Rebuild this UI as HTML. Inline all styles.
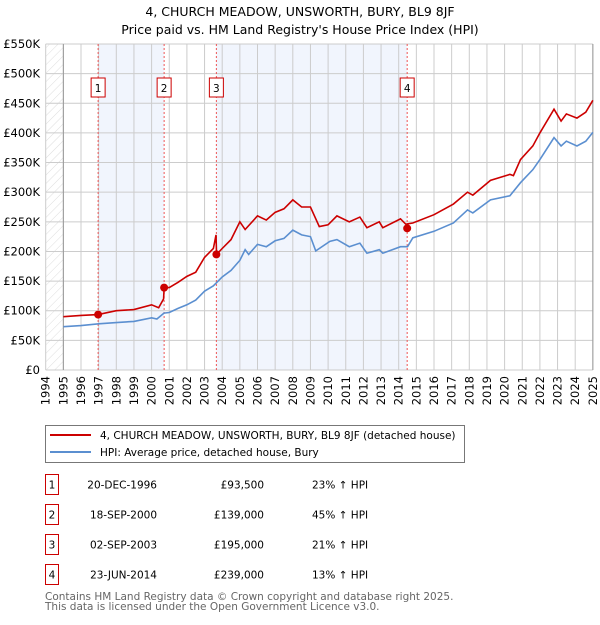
<!DOCTYPE html>
<html><head><meta charset="utf-8"><style>
body{margin:0;background:#fff;font-family:"Liberation Sans","DejaVu Sans",sans-serif;}
svg text{font-family:"DejaVu Sans","Liberation Sans",sans-serif;}
</style></head><body>
<svg id="c" width="600" height="620" xmlns="http://www.w3.org/2000/svg">
<defs><pattern id="h" width="6" height="6" patternUnits="userSpaceOnUse" patternTransform="rotate(45)"><line x1="0" y1="0" x2="0" y2="6" stroke="#d4d4d4" stroke-width="0.8"/></pattern></defs>
<text x="300" y="16" font-size="12.5" text-anchor="middle">4, CHURCH MEADOW, UNSWORTH, BURY, BL9 8JF</text>
<text x="300" y="34" font-size="12.5" text-anchor="middle">Price paid vs. HM Land Registry's House Price Index (HPI)</text>
<g id="plot"></g>
<g>
<rect x="45.5" y="425.5" width="419" height="37" fill="#fff" stroke="#777"/>
<line x1="50" y1="435" x2="91" y2="435" stroke="#cc0000" stroke-width="2"/>
<text x="100" y="439" font-size="10.5">4, CHURCH MEADOW, UNSWORTH, BURY, BL9 8JF (detached house)</text>
<line x1="50" y1="452" x2="91" y2="452" stroke="#5b8fd0" stroke-width="2"/>
<text x="100" y="456" font-size="10.5">HPI: Average price, detached house, Bury</text>
</g>
<g id="table" font-size="10.5"></g>
<text x="45" y="600" font-size="10.5" fill="#666">Contains HM Land Registry data © Crown copyright and database right 2025.</text>
<text x="45" y="610" font-size="10.5" fill="#666">This data is licensed under the Open Government Licence v3.0.</text>
</svg>
<script>
const hpiYears=[1995,1996,1997,1998,1999,2000,2000.3,2000.7,2001,2001.5,2002,2002.5,2003,2003.5,2004,2004.5,2005,2005.3,2005.5,2006,2006.5,2007,2007.5,2008,2008.5,2009,2009.3,2010.1,2010.5,2011.2,2011.8,2012.2,2012.9,2013.1,2014.1,2014.5,2014.8,2016,2017.1,2017.9,2018.2,2019.2,2020.3,2020.9,2021.6,2022,2022.8,2023.2,2023.5,2024.1,2024.6,2025];
const hpiValues=[73,75,78,80,82,88,86,96,97,104,110,118,133,142,157,168,185,203,195,212,208,218,222,236,228,225,201,217,220,208,214,197,203,197,208,208,223,234,248,270,265,287,294,316,338,355,392,378,386,378,386,401];
const propYears=[1995,1996,1996.97,1998,1999,2000,2000.4,2000.68,2000.71,2001,2001.5,2002,2002.5,2003,2003.5,2003.65,2003.68,2004,2004.5,2005,2005.3,2006,2006.5,2007,2007.5,2008,2008.5,2009,2009.5,2010,2010.5,2011.2,2011.8,2012.2,2012.9,2013.1,2014.1,2014.4,2014.8,2016,2017.1,2017.9,2018.2,2019.2,2020.3,2020.5,2020.9,2021.6,2022,2022.8,2023.2,2023.5,2024.1,2024.6,2025];
const propValues=[90,92,93.5,100,102,110,105,120,139,139,148,158,165,190,205,228,195,205,220,250,237,260,253,266,272,287,275,275,242,245,260,250,258,240,250,240,255,246,248,262,280,300,295,320,330,328,355,378,400,440,420,432,425,435,455];
const saleLabels=["1","2","3","4"];
const saleYears=[1996.97,2000.71,2003.67,2014.48];
const salePrices=[93.5,139,195,239];
const saleDates=["20-DEC-1996","18-SEP-2000","02-SEP-2003","23-JUN-2014"];
const salePriceText=["£93,500","£139,000","£195,000","£239,000"];
const saleHpiText=["23% ↑ HPI","45% ↑ HPI","21% ↑ HPI","13% ↑ HPI"];
const yTicks=[0,50,100,150,200,250,300,350,400,450,500,550];
const yTickLabels=["£0","£50K","£100K","£150K","£200K","£250K","£300K","£350K","£400K","£450K","£500K","£550K"];
const xTicks=[1994,1995,1996,1997,1998,1999,2000,2001,2002,2003,2004,2005,2006,2007,2008,2009,2010,2011,2012,2013,2014,2015,2016,2017,2018,2019,2020,2021,2022,2023,2024,2025];

const NS="http://www.w3.org/2000/svg";
const X=y=>45.7+(y-1994)*17.65;
const Y=v=>370-v*326/550;
const g=document.getElementById('plot');
function mk(t,a,p){const e=document.createElementNS(NS,t);for(const k in a)e.setAttribute(k,a[k]);(p||g).appendChild(e);return e;}
mk('rect',{x:X(1994),y:Y(550),width:X(1995)-X(1994),height:Y(0)-Y(550),fill:'url(#h)'});
let sh=mk('rect',{x:X(saleYears[0]),y:Y(550),width:X(saleYears[1])-X(saleYears[0]),height:Y(0)-Y(550),fill:'#eef3fc',opacity:0.8});


sh=mk('rect',{x:X(saleYears[2]),y:Y(550),width:X(saleYears[3])-X(saleYears[2]),height:Y(0)-Y(550),fill:'#eef3fc',opacity:0.8});


yTicks.forEach((v,i)=>{
 mk('line',{x1:X(1994),x2:X(2025),y1:Y(v),y2:Y(v),stroke:'#ccc'});
 const t=mk('text',{x:40,y:Y(v)+4,'font-size':11.5,'text-anchor':'end'});t.textContent=yTickLabels[i];
 
 
});
xTicks.forEach(yr=>{
 mk('line',{x1:X(yr),x2:X(yr),y1:Y(550),y2:Y(0),stroke:'#ccc'});
 const t=mk('text',{x:0,y:0,'font-size':11.5,'text-anchor':'end',transform:`translate(${X(yr)+4},${Y(0)+6}) rotate(-90)`});t.textContent=yr;
 
 
});
mk('line',{x1:X(1995),x2:X(1995),y1:Y(550),y2:Y(0),stroke:'#999'});
mk('line',{x1:X(2025),x2:X(2025),y1:Y(550),y2:Y(0),stroke:'#999'});
saleYears.forEach((yr,i)=>{
 mk('line',{x1:X(yr),x2:X(yr),y1:Y(550),y2:Y(0),stroke:'#e55',"stroke-dasharray":"2,2"});
 const bx=mk('rect',{x:X(yr)-7,y:78,width:14,height:19,fill:'#fff',stroke:'#cc0000'});
 
 
 const t=mk('text',{x:X(yr),y:92,'font-size':10.5,'text-anchor':'middle'});t.textContent=saleLabels[i];
});
function line(xs,vs,col,name){
 const p=mk('polyline',{points:xs.map((x,i)=>X(x)+','+Y(vs[i])).join(' '),fill:'none',stroke:col,'stroke-width':1.6});
 
 
}
line(hpiYears,hpiValues,'#5b8fd0','hpi-line');
line(propYears,propValues,'#cc0000','price-paid-line');
saleYears.forEach((yr,i)=>{
 const c=mk('circle',{cx:X(yr),cy:Y(salePrices[i]),r:4,fill:'#cc0000'});
 
 
});
const tb=document.getElementById('table');
const rowY=[485,515,545,575];
saleLabels.forEach((l,i)=>{
 const y=rowY[i];
 mk('rect',{x:45.5,y:y-10.5,width:13,height:20,fill:'#fff',stroke:'#cc0000'},tb);
 let t=mk('text',{x:52,y:y+3.5,'text-anchor':'middle'},tb);t.textContent=l;
 t=mk('text',{x:157,y:y+3.5,'text-anchor':'end'},tb);t.textContent=saleDates[i];
 
 
 t=mk('text',{x:264,y:y+3.5,'text-anchor':'end'},tb);t.textContent=salePriceText[i];
 
 
 t=mk('text',{x:312,y:y+3.5},tb);t.textContent=saleHpiText[i];
 
 
});
</script>
</body></html>
